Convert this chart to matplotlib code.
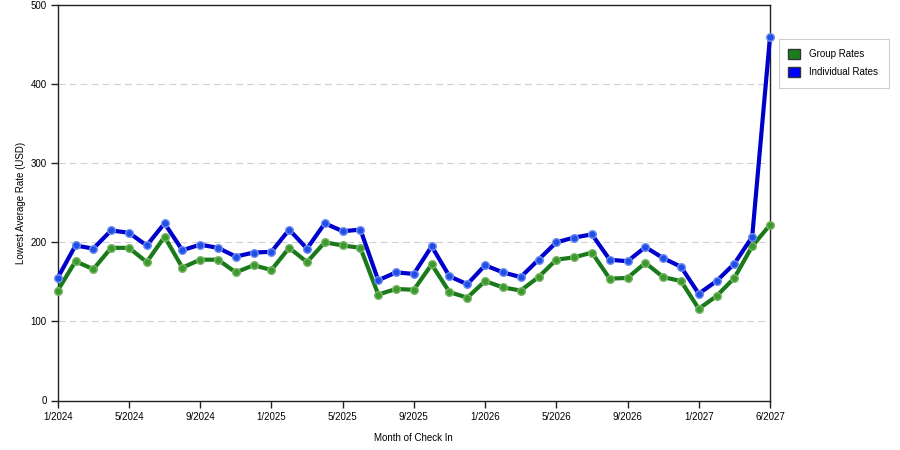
import matplotlib
matplotlib.use("Agg")
import matplotlib.pyplot as plt
from matplotlib.patches import Patch, Rectangle

months = ["1/2024","2/2024","3/2024","4/2024","5/2024","6/2024","7/2024","8/2024",
          "9/2024","10/2024","11/2024","12/2024","1/2025","2/2025","3/2025","4/2025",
          "5/2025","6/2025","7/2025","8/2025","9/2025","10/2025","11/2025","12/2025",
          "1/2026","2/2026","3/2026","4/2026","5/2026","6/2026","7/2026","8/2026",
          "9/2026","10/2026","11/2026","12/2026","1/2027","2/2027","3/2027","4/2027","6/2027"]

group_rates = [139, 176, 166, 193, 193, 175, 207, 168, 178, 178, 162, 171, 165, 193,
               175, 200, 196, 193, 134, 141, 140, 172, 137, 130, 151, 143, 139, 156,
               178, 181, 187, 154, 155, 174, 156, 151, 116, 132, 155, 195, 222]

individual_rates = [155, 196, 192, 215, 212, 196, 224, 190, 197, 193, 182, 187, 188, 216,
                    192, 224, 214, 216, 152, 162, 160, 195, 157, 147, 171, 162, 156, 178,
                    200, 206, 210, 178, 176, 194, 180, 169, 135, 151, 173, 207, 460]

tick_labels = ["1/2024","5/2024","9/2024","1/2025","5/2025","9/2025",
               "1/2026","5/2026","9/2026","1/2027","6/2027"]
tick_idx = [months.index(t) for t in tick_labels]

plt.rcParams['font.family'] = ['Liberation Sans', 'DejaVu Sans']

W, H = 900, 450
fig = plt.figure(figsize=(9, 4.5), dpi=100)
ax = fig.add_axes([57.7 / W, 1 - 400.5 / H, (770 - 57.7) / W, (400.5 - 5) / H])

x = list(range(len(months)))
ax.plot(x, group_rates, color="#1a7a1a", lw=3, marker="o", ms=5.5,
        mfc="#3c9a2c", mec="#78b468", mew=1, zorder=3, clip_on=False)
ax.plot(x, individual_rates, color="#0000cc", lw=3, marker="o", ms=5.5,
        mfc="#1f4ee8", mec="#6f8ef0", mew=1, zorder=4, clip_on=False)

ax.set_xlim(0, len(months) - 1)
ax.set_ylim(0, 500)
ax.set_yticks([0, 100, 200, 300, 400, 500])
ax.set_xticks(tick_idx)
ax.set_xticklabels(tick_labels)
ax.tick_params(axis="both", labelsize=7, length=5, width=1, color="#222222",
               direction="out", pad=3)
for yv in [100, 200, 300, 400]:
    ax.axhline(yv, color="#d0d0d0", lw=0.8, ls=(0, (6, 4)), zorder=1)
for s in ax.spines.values():
    s.set_color("#222222")
    s.set_linewidth(1)

ax.set_xlabel("Month of Check In", fontsize=7, labelpad=8)
ax.set_ylabel("Lowest Average Rate (USD)", fontsize=7, labelpad=3)

# legend frame
fig.add_artist(Rectangle((779 / W, 1 - 87.5 / H), (889 - 779) / W, (87.5 - 39.3) / H,
                         transform=fig.transFigure, facecolor="white",
                         edgecolor="#cccccc", lw=0.8, zorder=5))
handles = [Patch(facecolor="#1a7f1a", edgecolor="#333333", label="Group Rates"),
           Patch(facecolor="#0000ff", edgecolor="#333333", label="Individual Rates")]
leg = fig.legend(handles=handles, loc="upper left", bbox_to_anchor=(779 / W, 1 - 39.3 / H),
                 borderaxespad=0, fontsize=7, frameon=False, handlelength=1.25,
                 handleheight=1.25, borderpad=0.95, labelspacing=0.8, handletextpad=0.9)
leg.set_zorder(6)

fig.savefig("out.png", dpi=100)
